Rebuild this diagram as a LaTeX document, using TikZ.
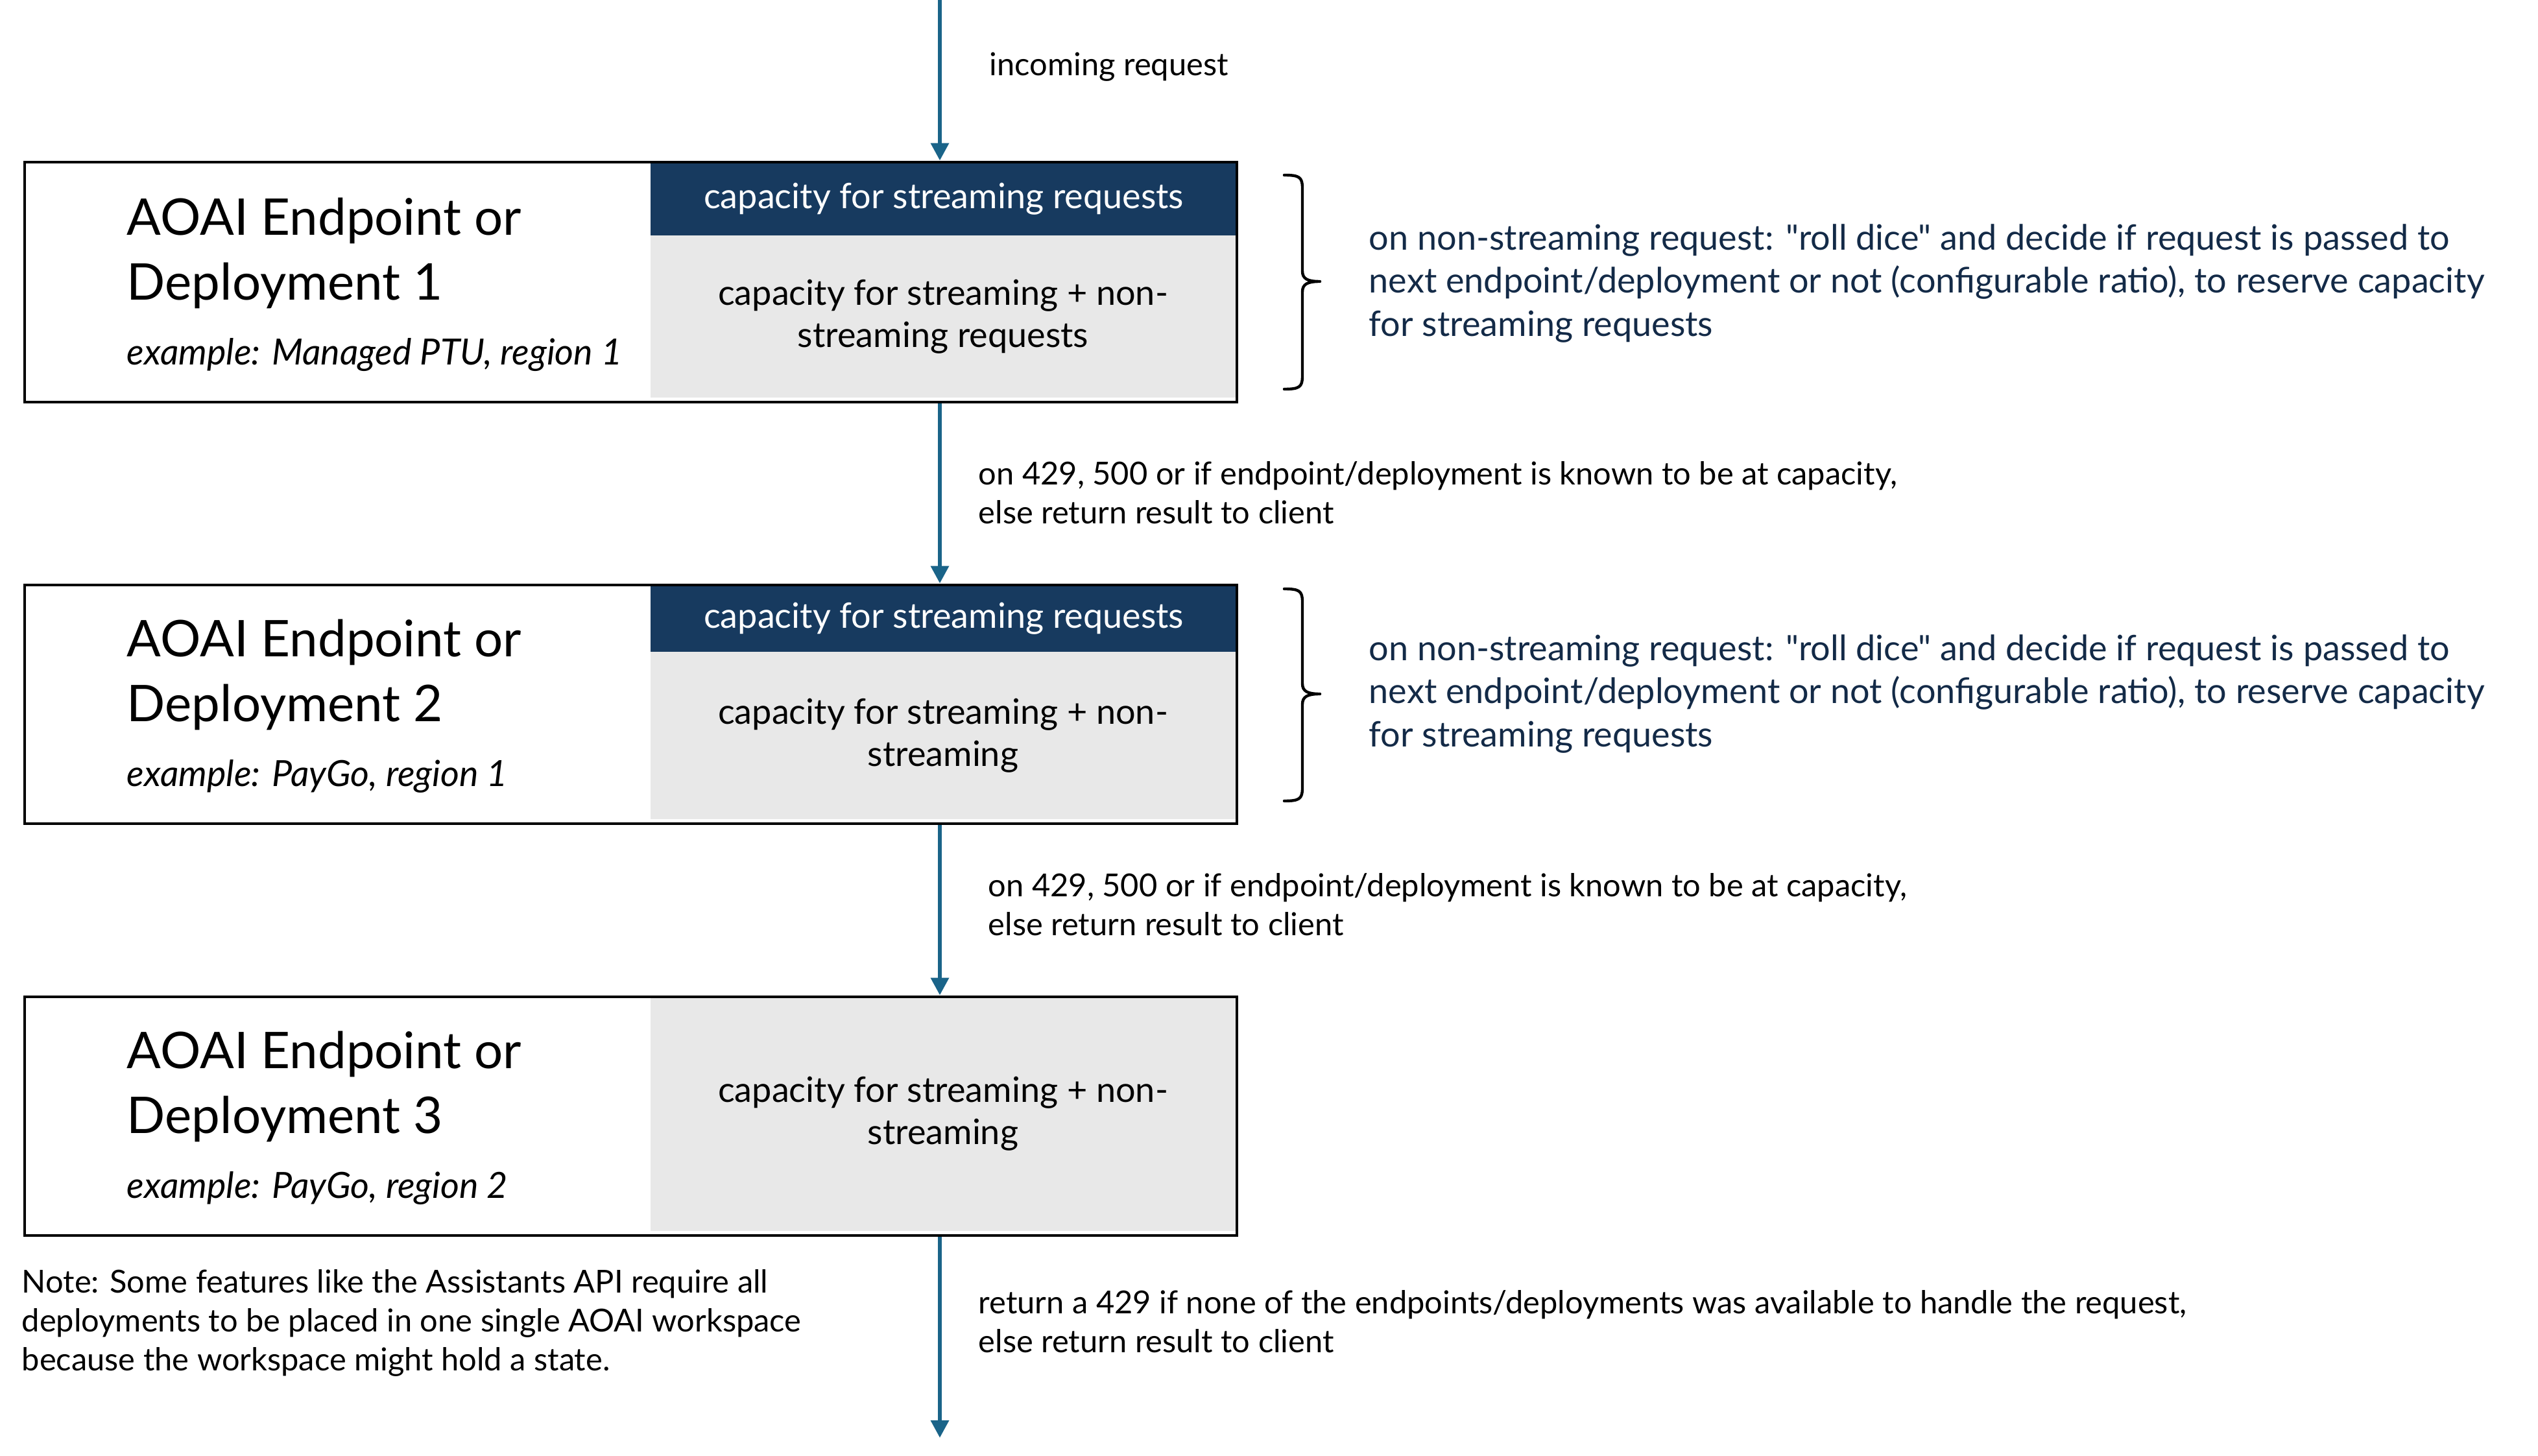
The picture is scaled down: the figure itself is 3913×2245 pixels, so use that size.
\documentclass[tikz,border=0pt]{standalone}
\usepackage{fontspec}
\setmainfont{Lato}[Ligatures=TeXOff]
\usetikzlibrary{arrows.meta,fit}
\definecolor{arrowblue}{HTML}{1A6489}
\definecolor{navy}{HTML}{173A5F}
\definecolor{lightgray}{HTML}{E8E8E8}
\definecolor{bracetext}{HTML}{132A47}
\tikzset{
  boxframe/.style={draw=black, line width=1.2pt, inner sep=0pt},
  hdrfill/.style={fill=navy, draw=none, inner sep=0pt},
  grayfill/.style={fill=lightgray, draw=none, inner sep=0pt},
  hdrtext/.style={text=white, font=\fontsize{13.5}{16.5}\selectfont, inner sep=0pt},
  graytext/.style={text=black, font=\fontsize{13.5}{16.3}\selectfont, align=center, inner sep=0pt},
  titletext/.style={anchor=west, align=left, font=\fontsize{19.5}{25}\selectfont, inner sep=0pt},
  exampletext/.style={anchor=west, font=\itshape\fontsize{13.9}{17}\selectfont, inner sep=0pt},
  bracetxt/.style={anchor=west, align=left, text=bracetext, font=\fontsize{13.5}{16.6}\selectfont, inner sep=0pt},
  labeltxt/.style={anchor=west, align=left, font=\fontsize{12.2}{15}\selectfont, inner sep=0pt},
  flow/.style={draw=arrowblue, line width=1.6pt, -{Triangle[width=6.75pt,length=6.75pt]}},
  bracemark/.style={draw=black, line width=1.1pt, line cap=round, line join=round},
}
\begin{document}
\begin{tikzpicture}[x=0.25pt,y=-0.25pt]
\useasboundingbox (0,0) rectangle (3913,2245);

% ---- box 1
\node[hdrfill, fit={(1003,250) (1907,363)}] (h1) {};
\node[grayfill, fit={(1003,363) (1905,613)}] (g1) {};
\node[boxframe, fit={(38,250) (1907,620)}] (b1) {};
\node[hdrtext] (h1t) at (h1.center) {capacity for streaming requests};
\node[graytext] (g1t) at (g1.center) {capacity for streaming + non-\\streaming requests};
\node[titletext] (t1) at (195,390) {AOAI Endpoint or\\Deployment 1};
\node[exampletext] (e1) at (195,547) {example: Managed PTU, region 1};

% ---- box 2
\node[hdrfill, fit={(1003,902) (1907,1005)}] (h2) {};
\node[grayfill, fit={(1003,1005) (1905,1263)}] (g2) {};
\node[boxframe, fit={(38,902) (1907,1270)}] (b2) {};
\node[hdrtext] (h2t) at (h2.center) {capacity for streaming requests};
\node[graytext] (g2t) at (g2.center) {capacity for streaming + non-\\streaming};
\node[titletext] (t2) at (195,1040) {AOAI Endpoint or\\Deployment 2};
\node[exampletext] (e2) at (195,1197) {example: PayGo, region 1};

% ---- box 3
\node[grayfill, fit={(1003,1537) (1905,1898)}] (g3) {};
\node[boxframe, fit={(38,1537) (1907,1905)}] (b3) {};
\node[graytext] (g3t) at (g3.center) {capacity for streaming + non-\\streaming};
\node[titletext] (t3) at (195,1675) {AOAI Endpoint or\\Deployment 3};
\node[exampletext] (e3) at (195,1832) {example: PayGo, region 2};

% ---- flow arrows
\coordinate (top) at (1449,0);
\coordinate (bottom) at (1449,2217);
\draw[flow] (top) -- (top |- b1.north);
\draw[flow] (top |- b1.south) -- (top |- b2.north);
\draw[flow] (top |- b2.south) -- (top |- b3.north);
\draw[flow] (top |- b3.south) -- (bottom);

\node[labeltxt] (lin) at (1525,103) {incoming request};
\node[labeltxt] (l1) at (1508,760) {on 429, 500 or if endpoint/deployment is known to be at capacity,\\else return result to client};
\node[labeltxt] (l2) at (1523,1395) {on 429, 500 or if endpoint/deployment is known to be at capacity,\\else return result to client};
\node[labeltxt] (l3) at (1508,2038) {return a 429 if none of the endpoints/deployments was available to handle the request,\\else return result to client};

% ---- braces
\draw[bracemark] (1980,270) .. controls (2003,270) and (2008,273) .. (2008,290)
  -- (2008,418) .. controls (2008,430) and (2016,434) .. (2035,434)
  .. controls (2016,434) and (2008,438) .. (2008,450)
  -- (2008,580) .. controls (2008,597) and (2003,600) .. (1980,600);
\draw[bracemark] (1980,908) .. controls (2003,908) and (2008,911) .. (2008,928)
  -- (2008,1054) .. controls (2008,1066) and (2016,1070) .. (2035,1070)
  .. controls (2016,1070) and (2008,1074) .. (2008,1086)
  -- (2008,1215) .. controls (2008,1232) and (2003,1235) .. (1980,1235);
\node[bracetxt] (bt1) at (2110,437) {on non-streaming request: "roll dice" and decide if request is passed to\\next endpoint/deployment or not (configurable ratio), to reserve capacity\\for streaming requests};
\node[bracetxt] (bt2) at (2110,1070) {on non-streaming request: "roll dice" and decide if request is passed to\\next endpoint/deployment or not (configurable ratio), to reserve capacity\\for streaming requests};

% ---- note
\node[labeltxt] (note) at (33,2040) {Note: Some features like the Assistants API require all\\deployments to be placed in one single AOAI workspace\\because the workspace might hold a state.};
\end{tikzpicture}
\end{document}
